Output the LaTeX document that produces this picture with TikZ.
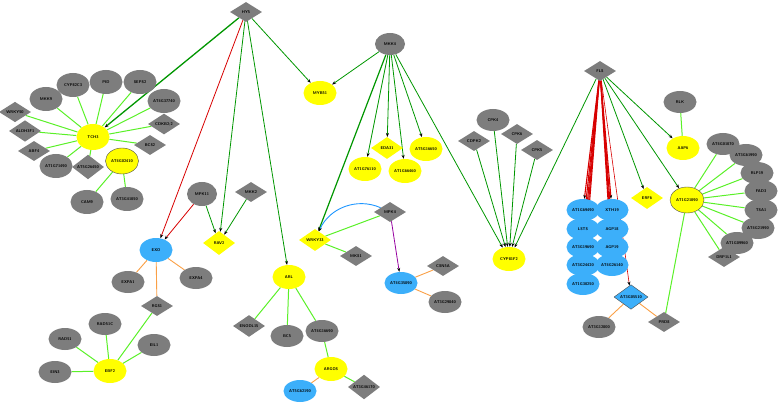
\documentclass[tikz,border=0pt]{standalone}
\usepackage{tikz}
\usetikzlibrary{shapes.geometric,arrows.meta,backgrounds}
\usepackage{xcolor}

\definecolor{nodegray}{RGB}{125,125,125}
\definecolor{nodeyellow}{RGB}{255,255,0}
\definecolor{nodeblue}{RGB}{60,175,250}
\definecolor{litegreen}{RGB}{90,240,40}
\definecolor{darkgreen}{RGB}{0,150,0}
\definecolor{edgered}{RGB}{215,0,0}
\definecolor{edgeorange}{RGB}{250,160,70}
\definecolor{edgepurple}{RGB}{150,0,160}
\definecolor{edgeblue}{RGB}{30,150,255}

\begin{document}
\begin{tikzpicture}[x=1pt,y=-1pt,
    every node/.style={font=\fontsize{4}{4}\selectfont\sffamily\bfseries, inner sep=0pt},
    grayell/.style={ellipse, fill=nodegray, minimum width=33pt, minimum height=22pt},
    graydia/.style={diamond, fill=nodegray, minimum width=32pt, minimum height=20pt},
    yelell/.style={ellipse, fill=nodeyellow, minimum width=33pt, minimum height=24pt},
    yeldia/.style={diamond, fill=nodeyellow, minimum width=32pt, minimum height=22pt},
    blueell/.style={ellipse, fill=nodeblue, minimum width=33pt, minimum height=22pt},
    bluedia/.style={diamond, fill=nodeblue, minimum width=34pt, minimum height=24pt},
    picked/.style={draw=black!70, line width=0.4pt},
    spoke/.style={draw=litegreen, line width=1pt},
    link/.style={draw=edgeorange, line width=0.9pt},
    act/.style={draw=darkgreen, line width=0.8pt, -{Stealth[length=4pt,width=3pt,black]}},
    rep/.style={draw=edgered, line width=0.8pt, -{Stealth[length=4pt,width=3pt,black]}}]
    \useasboundingbox (0,0) rectangle (778,403);

    % Hubs
    \node[graydia] (hy5) at (246,12) {HY5};
    \node[grayell, minimum width=30pt] (mkk4) at (390,44) {MKK4};
    \node[graydia] (fls) at (600,71) {FLS};
    \node[yelell] (myb51) at (320,93) {MYB51};

    % TCH3 cluster
    \node[yelell, minimum height=26pt] (tch3) at (93,137) {TCH3};
    \node[graydia] (wrky50) at (15,112) {WRKY50};
    \node[graydia] (aldh) at (25,131) {ALDH3F1};
    \node[graydia] (abf4) at (34,151) {ABF4};
    \node[grayell, minimum height=24pt] (mkk9) at (46,99) {MKK9};
    \node[grayell, minimum height=24pt] (cyp82) at (73,85) {CYP82C3};
    \node[grayell, minimum height=24pt] (pid) at (106,82) {PID};
    \node[grayell, minimum height=24pt] (seps2) at (140,82) {SEPS2};
    \node[grayell, minimum height=24pt] (at4g37740) at (164,101) {AT4G37740};
    \node[graydia] (cdkb) at (164,124) {CDKB2;2};
    \node[graydia] (bcs2) at (150,145) {BCS2};
    \node[grayell, minimum height=24pt] (at1g71490) at (56,166) {AT1G71490};
    \node[graydia] (at5g26450) at (88,167) {AT5G26450};
    \node[yelell, picked, minimum height=26pt] (at4g02410) at (122,161) {AT4G02410};
    \node[grayell, minimum height=24pt] (cam9) at (87,202) {CAM9};
    \node[grayell, minimum height=24pt] (at3g41050) at (127,199) {AT3G41050};

    % EXO and RAV2
    \node[blueell, minimum height=24pt] (exo) at (156,250) {EXO};
    \node[grayell, minimum width=30pt, minimum height=24pt] (mpk11) at (202,194) {MPK11};
    \node[graydia] (mkk2) at (251,192) {MKK2};
    \node[yeldia, minimum height=24pt] (rav2) at (219,243) {RAV2};
    \node[grayell] (expa1) at (128,282) {EXPA1};
    \node[grayell] (expa4) at (196,278) {EXPA4};
    \node[graydia] (rgs1) at (157,306) {RGS1};

    % EBF2 cluster
    \node[yelell] (ebf2) at (110,371) {EBF2};
    \node[grayell] (rad51c) at (105,324) {RAD51C};
    \node[grayell] (rad51) at (65,339) {RAD51};
    \node[grayell] (eil1) at (154,345) {EIL1};
    \node[grayell] (ein3) at (55,372) {EIN3};

    % ARL cluster
    \node[yelell] (arl) at (289,277) {ARL};
    \node[graydia] (enodl) at (249,326) {ENODL15};
    \node[grayell] (bc5) at (287,336) {BC5};
    \node[grayell] (at4g16690) at (322,331) {AT4G16690};
    \node[yelell] (argos) at (331,369) {ARGOS};
    \node[blueell] (at5g62190) at (300,391) {AT5G62190};
    \node[graydia] (at3g46170) at (364,387) {AT3G46170};

    % MKK4 targets
    \node[yeldia] (wrky33) at (315,240) {WRKY33};
    \node[graydia] (mks1) at (356,256) {MKS1};
    \node[graydia] (mpk4) at (390,212) {MPK4};
    \node[yelell] (at1g76110) at (365,169) {AT1G76110};
    \node[yeldia] (eda31) at (387,148) {EDA31};
    \node[yelell] (at1g66460) at (405,171) {AT1G66460};
    \node[yelell] (at5g16650) at (426,149) {AT5G16650};
    \node[blueell] (at4g35890) at (401,283) {AT4G35890};
    \node[graydia] (csn5a) at (443,266) {CSN5A};
    \node[grayell] (at3g29840) at (445,302) {AT3G29840};

    % CYP81F2 and kinases
    \node[yelell] (cyp81f2) at (509,259) {CYP81F2};
    \node[grayell] (cpk4) at (493,120) {CPK4};
    \node[graydia] (cdpk2) at (474,141) {CDPK2};
    \node[graydia] (cpk6) at (517,134) {CPK6};
    \node[graydia] (cpk5) at (537,150) {CPK5};

    % FLS blue cluster
    \node[blueell] (at1g69490) at (583,210) {AT1G69490};
    \node[blueell] (lsts) at (583,229) {LSTS};
    \node[blueell] (at3g19690) at (583,247) {AT3G19690};
    \node[blueell] (at3g24420) at (583,265) {AT3G24420};
    \node[blueell] (at1g30250) at (583,284) {AT1G30250};
    \node[blueell] (xth19) at (612,210) {XTH19};
    \node[blueell] (agp18) at (612,229) {AGP18};
    \node[blueell] (agp19) at (612,247) {AGP19};
    \node[blueell] (at4g26140) at (612,265) {AT4G26140};
    \node[bluedia, picked] (at3g05510) at (631,297) {AT3G05510};
    \node[grayell] (at3g12800) at (599,327) {AT3G12800};
    \node[graydia] (prd8) at (664,322) {PRD8};

    % AT1G21090 cluster
    \node[grayell] (rlk) at (680,102) {RLK};
    \node[yelell] (aap6) at (683,148) {AAP6};
    \node[yeldia] (erf6) at (647,198) {ERF6};
    \node[yelell, picked, minimum width=34pt, minimum height=26pt] (at1g21090) at (687,200) {AT1G21090};
    \node[grayell] (at4g01070) at (723,144) {AT4G01070};
    \node[grayell] (at3g61990) at (746,155) {AT3G61990};
    \node[grayell] (rlp19) at (757,173) {RLP19};
    \node[grayell] (fad3) at (761,191) {FAD3};
    \node[grayell] (tsa1) at (761,210) {TSA1};
    \node[grayell] (at4g21990) at (758,228) {AT4G21990};
    \node[grayell] (at1g09960) at (737,243) {AT1G09960};
    \node[graydia] (drp1l1) at (724,257) {DRP1L1};

    \begin{scope}[on background layer]
        % undirected links
        \foreach \n in {wrky50,aldh,abf4,mkk9,cyp82,pid,seps2,at4g37740,cdkb,bcs2,at1g71490,at5g26450}
            \draw[spoke] (tch3) -- (\n);
        \foreach \n in {cam9,at3g41050}
            \draw[spoke] (at4g02410) -- (\n);
        \foreach \n in {rgs1,rad51c,rad51,eil1,ein3}
            \draw[spoke] (ebf2) -- (\n);
        \foreach \n in {enodl,bc5,at4g16690}
            \draw[spoke] (arl) -- (\n);
        \draw[spoke] (at4g16690) -- (argos);
        \draw[spoke] (argos) -- (at3g46170);
        \draw[spoke] (wrky33) -- (mks1);
        \draw[spoke] (mpk4) -- (wrky33);
        \draw[spoke] (rlk) -- (aap6);
        \foreach \n in {at4g01070,at3g61990,rlp19,fad3,tsa1,at4g21990,at1g09960,drp1l1,prd8}
            \draw[spoke] (at1g21090) -- (\n);
        \foreach \n in {expa1,expa4,rgs1}
            \draw[link] (exo) -- (\n);
        \draw[link] (argos) -- (at5g62190);
        \draw[link] (at4g35890) -- (csn5a);
        \draw[link] (at4g35890) -- (at3g29840);
        \draw[link] (at3g05510) -- (at3g12800);
        \draw[link] (at3g05510) -- (prd8);

        % directed links
        \draw[act, line width=1.3pt] (hy5) -- (tch3);
        \draw[act] (hy5) -- (myb51);
        \draw[act] (hy5) -- (rav2);
        \draw[act] (hy5) -- (arl);
        \draw[rep] (hy5) -- (exo);
        \draw[rep] (mpk11) -- (exo);
        \draw[act] (mpk11) -- (rav2);
        \draw[act] (mkk2) -- (rav2);
        \foreach \n in {myb51,at1g76110,eda31,at1g66460,at5g16650}
            \draw[act] (mkk4) -- (\n);
        \draw[act, line width=1.2pt] (mkk4) -- (wrky33);
        \foreach \n in {mkk4,cdpk2,cpk4,cpk6,cpk5,fls}
            \draw[act] (\n) -- (cyp81f2);
        \draw[draw=edgeblue, line width=0.9pt, -{Stealth[length=4pt,width=3pt,black]}] (mpk4) to[bend right=45] (wrky33);
        \draw[draw=edgepurple, line width=0.8pt, -{Stealth[length=4pt,width=3pt,black]}] (mpk4) -- (at4g35890);
        \foreach \n in {at1g69490,lsts,at3g19690,at3g24420,at1g30250,xth19,agp18,agp19,at4g26140}
            \draw[rep, line width=1.1pt] (fls) -- (\n);
        \draw[rep, line width=0.6pt] (fls) -- (at3g05510);
        \foreach \n in {erf6,at1g21090,aap6}
            \draw[act] (fls) -- (\n);
    \end{scope}
\end{tikzpicture}
\end{document}
